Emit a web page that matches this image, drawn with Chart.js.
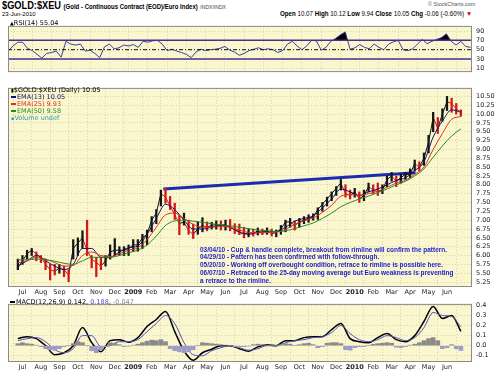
<!DOCTYPE html>
<html>
<head>
<meta charset="utf-8">
<script src="https://cdn.jsdelivr.net/npm/chart.js@4.4.1/dist/chart.umd.min.js"></script>
<style>
  body { margin: 0; width: 500px; height: 374px; overflow: hidden; position: relative; background: #fff;
         font-family: "Liberation Sans", Arial, sans-serif; }
  canvas { position: absolute; left: 0; }
  .t { position: absolute; white-space: nowrap; line-height: 1; transform-origin: 0 0; }
  .ann { color: #1c1ccf; font-weight: bold; font-size: 7px; left: 200px; }
  .lg { left: 11px; font-size: 6.5px; font-family: "DejaVu Sans", Verdana, sans-serif; }
  .dash { display: inline-block; width: 5px; height: 1.5px; vertical-align: middle; margin-right: 1px; }
</style>
</head>
<body>
<div class="t" id="title" style="left:2px;top:1px;font-size:10px;">
  <b style="font-size:10px;">$GOLD:$XEU</b>
  <b style="font-size:6.5px;">(Gold - Continuous Contract (EOD)/Euro Index)</b>
  <span style="font-size:5.5px;color:#444;">INDX/INDX</span>
</div>
<div class="t" style="left:2px;top:11px;font-size:6px;">23-Jun-2010</div>
<div class="t" style="left:428px;top:2px;font-size:5.5px;color:#555;">© StockCharts.com</div>
<div class="t" id="ohlc" style="left:280px;top:11px;font-size:6.5px;">
  <b>Open</b> 10.07 <b>High</b> 10.12 <b>Low</b> 9.94 <b>Close</b> 10.05 <b>Chg</b> -0.06 (-0.60%) <span style="color:#c00;">▼</span>
</div>

<canvas id="rsi" width="500" height="62" style="top:18px"></canvas>
<canvas id="price" width="500" height="216" style="top:80px"></canvas>
<canvas id="macd" width="500" height="78" style="top:296px"></canvas>

<div class="t lg" style="top:20px;left:10px;"><span style="font-size:5px">▲</span>RSI(14) 55.04</div>

<div class="t lg" style="top:87px;"><span style="font-size:5px">▮</span>$GOLD:$XEU (Daily) 10.05</div>
<div class="t lg" style="top:94px;color:#101070;"><span class="dash" style="background:#101070"></span>EMA(13) 10.05</div>
<div class="t lg" style="top:101px;color:#e0301c;"><span class="dash" style="background:#e0301c"></span>EMA(25) 9.93</div>
<div class="t lg" style="top:108px;color:#2a8a22;"><span class="dash" style="background:#2a8a22"></span>EMA(50) 9.58</div>
<div class="t lg" style="top:115px;color:#3a9aa0;"><span style="font-size:5px">▪</span>Volume undef</div>

<div class="t ann" id="ann1" style="top:246px;">03/04/10 - Cup &amp; handle complete, breakout from rimline will confirm the pattern.</div>
<div class="t ann" style="top:253px;">04/29/10 - Pattern has been confirmed with follow-through.</div>
<div class="t ann" style="top:261px;">05/20/10 - Working off overbought condition, retrace to rimline is possible here.</div>
<div class="t ann" style="top:269px;">06/07/10 - Retraced to the 25-day moving average but Euro weakness is preventing</div>
<div class="t ann" style="top:276.5px;">a retrace to the rimline.</div>

<div class="t lg" style="top:299px;left:10px;"><span class="dash" style="background:#000"></span>MACD(12,26,9) 0.142, <span style="color:#5050c0">0.188</span>, <span style="color:#888">-0.047</span></div>

<script>
// months from Jul 2008 (0 = Jul 1 2008)
const monthLabels = ['Jul', 'Aug', 'Sep', 'Oct', 'Nov', 'Dec', '2009', 'Feb', 'Mar', 'Apr', 'May', 'Jun',
  'Jul', 'Aug', 'Sep', 'Oct', 'Nov', 'Dec', '2010', 'Feb', 'Mar', 'Apr', 'May', 'Jun'];

const rsiTicks = [10, 30, 50, 70, 90];
const priceTicks = [5.25, 5.5, 5.75, 6, 6.25, 6.5, 6.75, 7, 7.25, 7.5, 7.75, 8, 8.25, 8.5, 8.75,
  9, 9.25, 9.5, 9.75, 10, 10.25, 10.5];
const macdTicks = [-0.1, 0, 0.1, 0.2, 0.3, 0.4];

// weekly samples, starting late Jun 2008
const weekStart = -0.25;
const weekStep = 0.25;
const closes = [5.65, 5.85, 6.05, 6.15, 6.05, 5.95, 5.75, 5.6, 5.55, 5.65, 5.6, 5.45, 6.2, 6.35, 6.5, 6.15,
  5.9, 5.8, 5.7, 5.85, 6.1, 6.15, 6.15, 6.15, 6.2, 6.3, 6.3, 6.5, 6.6, 7.0, 7.2, 7.75,
  7.65, 7.4, 7.15, 6.9, 6.95, 6.7, 6.6, 6.75, 6.85, 6.8, 6.85, 6.88, 6.85, 6.88, 6.8, 6.72,
  6.65, 6.6, 6.65, 6.62, 6.7, 6.65, 6.7, 6.62, 6.65, 6.75, 6.95, 6.95, 6.85, 6.95, 7.0, 7.05,
  7.1, 7.3, 7.45, 7.6, 7.75, 7.9, 8.05, 7.75, 7.7, 7.8, 7.6, 7.7, 7.95, 7.85, 7.8, 7.85,
  8.15, 8.25, 8.1, 8.2, 8.3, 8.3, 8.6, 8.5, 8.75, 9.2, 9.9, 9.6, 10.0, 10.35, 10.3, 10.15, 10.05];
const lows = [5.6, 5.75, 5.9, 6.0, 5.85, 5.8, 5.6, 5.31, 5.45, 5.5, 5.4, 5.26, 5.9, 6.0, 6.2, 6.0,
  5.65, 5.4, 5.6, 5.7, 5.9, 6.0, 6.0, 6.0, 6.0, 6.12, 6.12, 6.2, 6.3, 6.67, 6.9, 7.4,
  7.48, 7.3, 7.02, 6.59, 6.86, 6.6, 6.48, 6.6, 6.67, 6.7, 6.75, 6.75, 6.72, 6.72, 6.7, 6.62,
  6.59, 6.5, 6.53, 6.55, 6.58, 6.59, 6.6, 6.55, 6.53, 6.6, 6.67, 6.8, 6.72, 6.8, 6.9, 6.94,
  7.0, 7.02, 7.25, 7.4, 7.55, 7.7, 7.85, 7.65, 7.6, 7.65, 7.5, 7.55, 7.8, 7.75, 7.7, 7.75,
  7.95, 8.1, 7.95, 8.05, 8.15, 8.2, 8.4, 8.4, 8.55, 8.9, 9.5, 9.45, 9.8, 10.1, 10.05, 10.0, 9.94];
const highs = [5.9, 6.0, 6.15, 6.2, 6.1, 6.0, 5.9, 5.75, 5.75, 5.75, 5.7, 5.6, 6.45, 6.5, 6.7, 7.0,
  6.0, 5.95, 5.95, 6.0, 6.3, 6.48, 6.25, 6.25, 6.3, 6.45, 6.45, 6.6, 6.72, 7.1, 7.3, 7.85,
  7.9, 7.67, 7.48, 7.13, 7.2, 7.0, 6.89, 6.95, 7.07, 6.95, 6.94, 6.98, 6.98, 7.0, 7.02, 6.9,
  6.89, 6.8, 6.75, 6.75, 6.78, 6.75, 6.78, 6.75, 6.72, 6.85, 7.0, 7.05, 6.98, 7.05, 7.1, 7.15,
  7.18, 7.35, 7.5, 7.65, 7.8, 7.95, 8.15, 8.0, 7.85, 7.9, 7.8, 7.85, 8.05, 8.0, 8.05, 8.0,
  8.25, 8.35, 8.25, 8.3, 8.35, 8.45, 8.7, 8.65, 8.9, 9.4, 10.05, 9.9, 10.15, 10.5, 10.45, 10.3, 10.12];
const rsi14 = [47, 58, 66, 66, 53, 48, 40, 32, 42, 44, 47, 34, 68, 62, 60, 62,
  47, 49, 42, 33, 56, 62, 52, 54, 60, 58, 61, 55, 68, 66, 69, 70,
  62, 48, 51, 47, 44, 40, 33, 45, 51, 48, 50, 51, 53, 57, 49, 45,
  38, 42, 48, 51, 54, 50, 52, 50, 44, 48, 62, 68, 58, 50, 58, 70,
  69, 49, 55, 68, 74, 82, 88, 51, 54, 61, 55, 52, 62, 55, 50, 62,
  67, 70, 50, 48, 52, 62, 72, 63, 68, 72, 76, 84, 68, 60, 68, 57, 55];
const macdHist = [0.02, 0.03, 0.02, 0.015, 0.005, -0.01, -0.03, -0.04, -0.045, -0.03, -0.01, 0, 0.02, 0.04, 0.03, 0,
  -0.05, -0.07, -0.04, -0.01, 0.03, 0.025, 0.01, -0.01, -0.005, 0.005, 0.015, 0.03, 0.045, 0.055, 0.05, 0.06,
  0.04, -0.03, -0.05, -0.06, -0.07, -0.06, -0.04, 0, 0.03, 0.025, 0.02, 0.015, 0.01, 0.005, 0, -0.01,
  -0.015, -0.01, -0.005, 0.01, 0.015, 0.01, 0.005, 0.005, 0, 0.01, 0.02, 0.015, 0, 0.01, 0.02, 0.025,
  0.01, -0.02, -0.01, 0.025, 0.03, 0.03, 0.02, -0.04, -0.045, -0.02, -0.01, -0.01, 0, 0.015, 0.02, 0.025,
  0.03, 0.025, -0.015, -0.02, -0.01, 0.005, 0.015, 0.03, 0.05, 0.07, 0.08, 0.05, -0.03, -0.02, 0.01, -0.03, -0.047];

// half-month samples
const halfStart = -0.25;
const halfStep = 0.5;
const ema13 = [5.7, 5.85, 6.0, 5.85, 5.7, 5.6, 5.75, 6.2, 6.2, 5.95, 5.95, 6.1, 6.22, 6.27, 6.6, 7.05,
  7.45, 7.3, 7.0, 6.75, 6.75, 6.8, 6.85, 6.8, 6.67, 6.6, 6.65, 6.67, 6.68, 6.8, 6.97, 7.05,
  7.12, 7.35, 7.6, 7.88, 7.8, 7.7, 7.8, 7.88, 8.0, 8.12, 8.2, 8.4, 8.65, 9.35, 9.8, 10.12, 10.05];
const ema25 = [5.8, 5.85, 5.95, 5.9, 5.8, 5.7, 5.72, 6.0, 6.1, 6.0, 5.97, 6.05, 6.15, 6.22, 6.45, 6.8,
  7.15, 7.2, 7.05, 6.88, 6.8, 6.8, 6.83, 6.8, 6.72, 6.65, 6.64, 6.65, 6.66, 6.74, 6.88, 6.98,
  7.06, 7.22, 7.42, 7.68, 7.72, 7.7, 7.75, 7.82, 7.93, 8.05, 8.13, 8.3, 8.5, 9.0, 9.45, 9.85, 9.93];
const ema50 = [5.88, 5.88, 5.9, 5.88, 5.84, 5.78, 5.75, 5.85, 5.95, 5.95, 5.95, 6.0, 6.08, 6.15, 6.3, 6.55,
  6.85, 6.98, 7.0, 6.97, 6.94, 6.9, 6.87, 6.84, 6.8, 6.76, 6.72, 6.7, 6.68, 6.7, 6.76, 6.84,
  6.92, 7.05, 7.2, 7.38, 7.5, 7.6, 7.68, 7.78, 7.88, 8.0, 8.1, 8.25, 8.45, 8.78, 9.1, 9.38, 9.58];
const macdLine = [0.07, 0.09, 0.07, 0, -0.09, -0.07, 0, 0.18, 0.03, -0.06, 0.05, 0.06, 0.035, 0.08, 0.19, 0.26,
  0.34, 0.14, -0.05, -0.145, -0.07, -0.035, 0, 0, -0.03, -0.055, -0.012, 0.01, 0, 0.05, 0.05, 0.08,
  0.09, 0.09, 0.16, 0.22, 0.07, 0.04, 0.03, 0.08, 0.12, 0.06, 0.04, 0.1, 0.24, 0.39, 0.27, 0.3, 0.142];
const macdSignal = [0.05, 0.07, 0.08, 0.04, -0.04, -0.07, -0.03, 0.1, 0.1, -0.01, 0, 0.04, 0.04, 0.06, 0.14, 0.22,
  0.3, 0.22, 0.03, -0.09, -0.1, -0.05, -0.02, 0, -0.02, -0.045, -0.03, 0, 0, 0.03, 0.05, 0.06,
  0.08, 0.09, 0.13, 0.2, 0.12, 0.06, 0.04, 0.06, 0.1, 0.08, 0.05, 0.08, 0.18, 0.33, 0.3, 0.29, 0.188];

// rimline drawn on the chart (Feb 2009 high to Apr 2010)
const rimMonths = [7.63, 21.3];
const rimValues = [7.88, 8.34];

const xMin = -0.26;
const xMax = 23.83;
const plotBg = '#faf7cf';
const gridColor = '#d6d3b0';
const axisFont = { family: 'DejaVu Sans', size: 6.5 };

const weekly = arr => arr.map((v, i) => ({ x: weekStart + i * weekStep, y: v }));
const half = arr => arr.map((v, i) => ({ x: halfStart + i * halfStep, y: v }));
const flat = v => [{ x: xMin, y: v }, { x: xMax, y: v }];
const isDown = i => i > 0 && closes[i] < closes[i - 1];

const panelBg = {
  id: 'panelBg',
  beforeDraw(chart) {
    const { ctx, chartArea: a } = chart;
    ctx.save();
    ctx.fillStyle = plotBg;
    ctx.fillRect(a.left, a.top, a.width, a.height);
    ctx.restore();
  },
  afterDraw(chart) {
    const { ctx, chartArea: a } = chart;
    ctx.save();
    ctx.strokeStyle = '#8a8a8a';
    ctx.lineWidth = 1;
    ctx.strokeRect(a.left + 0.5, a.top + 0.5, a.width - 1, a.height - 1);
    ctx.restore();
  }
};

function xScale(showLabels, h) {
  return {
    type: 'linear', min: xMin, max: xMax,
    afterBuildTicks: s => { s.ticks = monthLabels.map((l, i) => ({ value: i })); },
    afterFit: s => { s.height = h; },
    grid: { color: gridColor, drawTicks: false },
    border: { display: false, dash: [1, 2] },
    ticks: {
      display: showLabels, autoSkip: false, maxRotation: 0, padding: 1, color: '#222',
      font: c => ({ family: 'DejaVu Sans', size: 6.5, weight: /^20/.test(monthLabels[c.tick && c.tick.value]) ? 'bold' : 'normal' }),
      callback: v => monthLabels[v]
    }
  };
}

function yScale(min, max, ticks, fmt) {
  return {
    position: 'right', min, max,
    afterBuildTicks: s => { s.ticks = ticks.map(v => ({ value: v })); },
    afterFit: s => { s.width = 28; },
    grid: { color: gridColor, drawTicks: false },
    border: { display: false, dash: [1, 2] },
    ticks: { autoSkip: false, padding: 4, color: '#222', font: axisFont, callback: fmt }
  };
}

function baseOptions(scales, padTop) {
  return {
    responsive: false, animation: false, events: [],
    layout: { padding: { left: 8, right: 0, top: padTop, bottom: 0 } },
    plugins: { legend: { display: false }, tooltip: { enabled: false } },
    elements: { point: { radius: 0 }, line: { borderJoinStyle: 'round' } },
    scales
  };
}

new Chart(document.getElementById('rsi'), {
  type: 'line',
  data: {
    datasets: [
      { data: flat(70), borderColor: '#4b2e91', borderWidth: 1.5 },
      { data: flat(30), borderColor: '#4b2e91', borderWidth: 1.5 },
      { data: flat(50), borderColor: '#111', borderWidth: 1, borderDash: [4, 2, 1, 2] },
      { data: weekly(rsi14), borderColor: '#3c3ca0', borderWidth: 1,
        fill: { target: { value: 70 }, above: '#000', below: 'rgba(0,0,0,0)' } }
    ]
  },
  options: baseOptions({
    x: xScale(false, 0),
    y: yScale(2, 101, rsiTicks, v => String(v))
  }, 0),
  plugins: [panelBg]
});

new Chart(document.getElementById('price'), {
  data: {
    datasets: [
      { type: 'line', data: half(ema50), borderColor: '#2a8a22', borderWidth: 1, cubicInterpolationMode: 'monotone' },
      { type: 'line', data: half(ema25), borderColor: '#e0301c', borderWidth: 1, cubicInterpolationMode: 'monotone' },
      { type: 'line', data: half(ema13), borderColor: '#101070', borderWidth: 1, cubicInterpolationMode: 'monotone' },
      { type: 'bar', data: lows.map((l, i) => ({ x: weekStart + i * weekStep, y: [l, highs[i]] })),
        barThickness: 1.6, backgroundColor: c => isDown(c.dataIndex) ? '#d01818' : '#151515' },
      { type: 'line', data: weekly(closes), borderWidth: 1, borderColor: '#111',
        segment: { borderColor: c => c.p1.parsed.y < c.p0.parsed.y ? '#d01818' : '#111' } },
      { type: 'line', data: rimMonths.map((m, i) => ({ x: m, y: rimValues[i] })), borderColor: '#1c2cb0', borderWidth: 3 }
    ]
  },
  options: baseOptions({
    x: xScale(true, 9),
    y: yScale(5.11, 10.74, priceTicks, v => v.toFixed(2))
  }, 0),
  plugins: [panelBg]
});

new Chart(document.getElementById('macd'), {
  data: {
    datasets: [
      { type: 'bar', data: weekly(macdHist), barThickness: 4,
        backgroundColor: c => (c.raw && c.raw.y < 0) ? '#9c9cc6' : '#8a8a8a' },
      { type: 'line', data: half(macdSignal), borderColor: '#5050c0', borderWidth: 1, cubicInterpolationMode: 'monotone' },
      { type: 'line', data: half(macdLine), borderColor: '#000', borderWidth: 1.5, cubicInterpolationMode: 'monotone' }
    ]
  },
  options: baseOptions({
    x: xScale(true, 12),
    y: yScale(-0.162, 0.415, macdTicks, v => v.toFixed(1))
  }, 1),
  plugins: [panelBg]
});

// squeeze text blocks to the width they have in the picture
function fit(el, w) {
  return w / el.getBoundingClientRect().width;
}
const annScale = fit(document.getElementById('ann1'), 247);
document.querySelectorAll('.ann').forEach(el => { el.style.transform = 'scaleX(' + annScale + ')'; });
const t = document.getElementById('title');
t.style.transform = 'scaleX(' + fit(t, 224) + ')';
const o = document.getElementById('ohlc');
o.style.transform = 'scaleX(' + fit(o, 192) + ')';
</script>
</body>
</html>
